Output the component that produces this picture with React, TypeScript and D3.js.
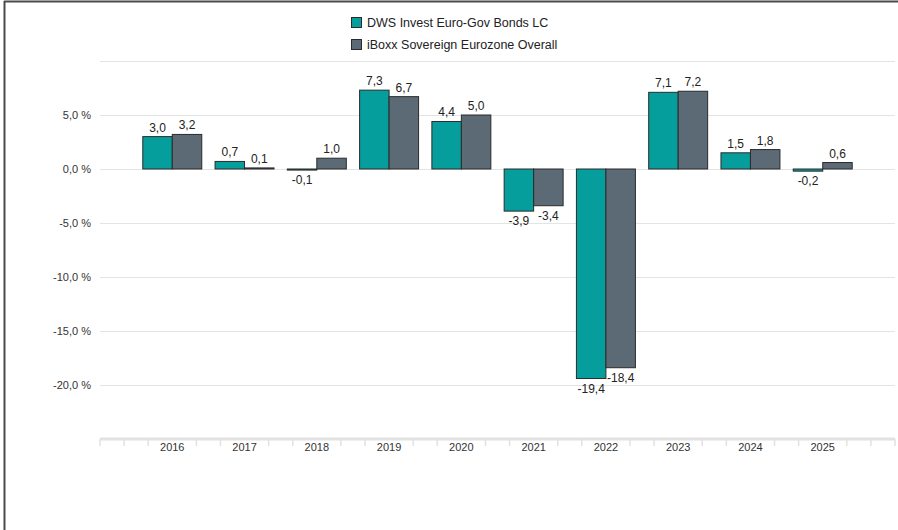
import React from "react";
import * as d3 from "d3";

const years = ["2016", "2017", "2018", "2019", "2020", "2021", "2022", "2023", "2024", "2025"];
const fundValues = [3.0, 0.7, -0.1, 7.3, 4.4, -3.9, -19.4, 7.1, 1.5, -0.2];
const indexValues = [3.2, 0.1, 1.0, 6.7, 5.0, -3.4, -18.4, 7.2, 1.8, 0.6];
const seriesNames = ["DWS Invest Euro-Gov Bonds LC", "iBoxx Sovereign Eurozone Overall"];
const seriesColors = ["#069e9c", "#5b6a75"];
const yTicks = [5, 0, -5, -10, -15, -20];
const gridValues = [10, 5, 0, -5, -10, -15, -20];

const W = 898;
const H = 530;
const plotLeft = 100;
const plotRight = 895;

const fmt = (v: number) => d3.format(".1f")(v).replace(".", ",").replace("−", "-");

export default function App() {
  const y = d3.scaleLinear().domain([-25, 10]).range([439, 61]);
  const x = d3.scaleLinear().domain([-1, years.length]).range([plotLeft, plotRight]);
  const step = x(1) - x(0);
  const barW = step * 0.408;
  const font = "'Liberation Sans', Arial, sans-serif";

  const tickPositions: number[] = [plotLeft, plotRight];
  for (let i = -1; i <= years.length; i++) {
    [i - 1 / 3, i + 1 / 3].forEach((t) => {
      const px = x(t);
      if (px > plotLeft + 1 && px < plotRight - 1) tickPositions.push(px);
    });
  }

  const series = [fundValues, indexValues];

  return (
    <svg
      width={W}
      height={H}
      style={{ position: "absolute", left: 0, top: 0, background: "#fff" }}
      fontFamily={font}
    >
      {/* frame */}
      <line x1={4.5} y1={1} x2={4.5} y2={H} stroke="#4a4a4a" strokeWidth={2} />
      <line x1={4} y1={1.5} x2={W} y2={1.5} stroke="#4a4a4a" strokeWidth={2} />

      {/* legend */}
      {seriesNames.map((name, i) => (
        <g key={name} transform={`translate(351, ${17 + i * 22})`}>
          <rect x={0.5} y={0.5} width={10} height={10} fill={seriesColors[i]} stroke="#2b2b2b" strokeWidth={1} />
          <text x={16} y={10} fontSize={12.5} fill="#222">
            {name}
          </text>
        </g>
      ))}

      {/* grid */}
      {gridValues.map((v) => (
        <line key={v} x1={plotLeft} x2={plotRight} y1={Math.round(y(v)) + 0.5} y2={Math.round(y(v)) + 0.5} stroke="#e4e4e4" strokeWidth={1} />
      ))}
      {yTicks.map((v) => (
        <text key={v} x={91} y={y(v) + 4} textAnchor="end" fontSize={11} fill="#333">
          {fmt(v) + " %"}
        </text>
      ))}

      {/* x axis */}
      <line x1={plotLeft} x2={plotRight} y1={439} y2={439} stroke="#e2e2e2" strokeWidth={3} />
      {tickPositions.map((px, i) => (
        <line key={i} x1={px} x2={px} y1={439} y2={446} stroke="#e2e2e2" strokeWidth={1.5} />
      ))}
      {years.map((yr, i) => (
        <text key={yr} x={x(i)} y={451} textAnchor="middle" fontSize={11} fill="#333">
          {yr}
        </text>
      ))}

      {/* bars */}
      {series.map((vals, s) =>
        vals.map((v, i) => {
          const bx = x(i) + (s === 0 ? -barW : 0);
          const y0 = y(0);
          const yv = y(v);
          const top = Math.min(y0, yv);
          const h = Math.max(Math.abs(yv - y0), 0.8);
          return (
            <rect
              key={`${s}-${i}`}
              x={bx}
              y={top}
              width={barW}
              height={h}
              fill={seriesColors[s]}
              stroke="#2b2b2b"
              strokeWidth={1}
            />
          );
        })
      )}

      {/* value labels */}
      {series.map((vals, s) =>
        vals.map((v, i) => {
          const cx = x(i) + (s === 0 ? -barW / 2 : barW / 2);
          const ly = v >= 0 ? y(v) - 5 : y(v) + 14;
          return (
            <text key={`l${s}-${i}`} x={cx} y={ly} textAnchor="middle" fontSize={12} fill="#222">
              {fmt(v)}
            </text>
          );
        })
      )}
    </svg>
  );
}
